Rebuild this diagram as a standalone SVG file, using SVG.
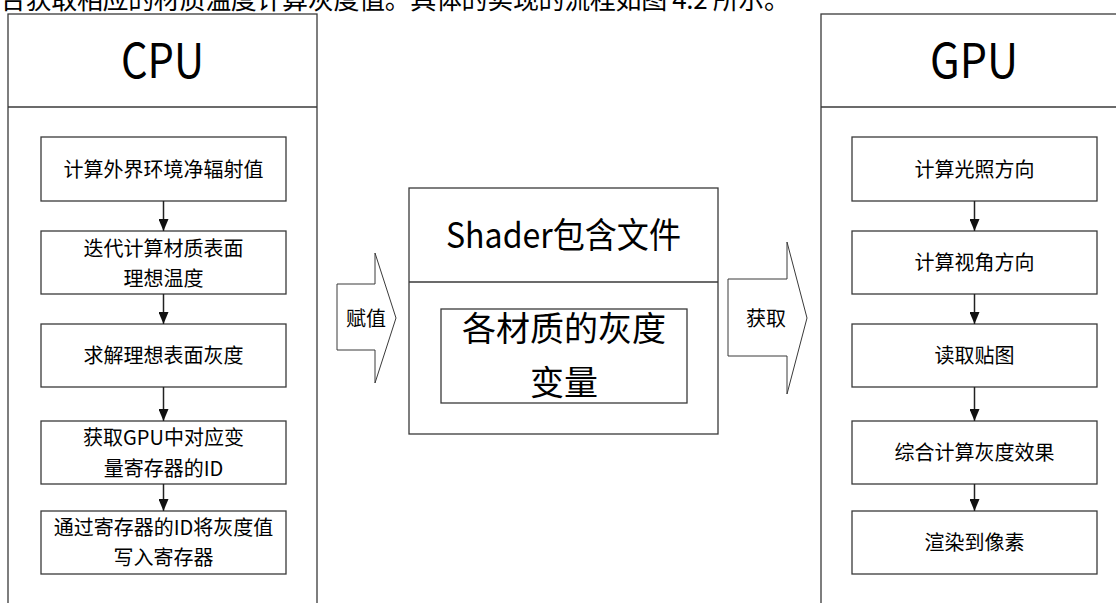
<svg xmlns="http://www.w3.org/2000/svg" width="1116" height="603" viewBox="0 0 1116 603">
<style>
  .box{fill:#fff;stroke:#3a3a3a;stroke-width:1.3}
  .ln{fill:none;stroke:#3a3a3a;stroke-width:1.3}
  .blk{fill:#fff;stroke:#3a3a3a;stroke-width:1}
  .t{font-family:"Noto Sans CJK SC","Noto Sans",sans-serif;fill:#000;text-anchor:middle}
  .s20{font-size:20px}
  .conn{fill:none;stroke:#222;stroke-width:1.5}
</style>
<defs>
  <marker id="ah" markerUnits="userSpaceOnUse" markerWidth="12" markerHeight="10" refX="12" refY="5" orient="auto" viewBox="0 0 12 10">
    <path d="M0,0 L12,5 L0,10 Z" fill="#111"/>
  </marker>
</defs>
<text x="0" y="9" font-family="Noto Sans CJK SC,sans-serif" font-size="26" textLength="790" lengthAdjust="spacing" fill="#000">合获取相应的材质温度计算灰度值。具体的实现的流程如图 4.2 所示。</text>

<g id="cpu">
  <rect class="box" x="8" y="14" width="309" height="620"/>
  <line class="ln" x1="8" y1="107" x2="317" y2="107"/>
  <text class="t" x="162.5" y="78" font-size="48" textLength="83" lengthAdjust="spacingAndGlyphs">CPU</text>
</g>
<g id="cpu1"><rect class="box" x="41" y="137" width="245" height="64"/><text class="t s20" x="163.5" y="176.5">计算外界环境净辐射值</text></g>
<g id="cpu2"><rect class="box" x="41" y="231" width="245" height="63"/><text class="t s20" x="163.5" y="256">迭代计算材质表面</text><text class="t s20" x="163.5" y="286">理想温度</text></g>
<g id="cpu3"><rect class="box" x="41" y="324" width="245" height="63"/><text class="t s20" x="163.5" y="363">求解理想表面灰度</text></g>
<g id="cpu4"><rect class="box" x="41" y="421" width="245" height="63"/><text class="t s20" x="163.5" y="445">获取GPU中对应变</text><text class="t s20" x="163.5" y="476">量寄存器的ID</text></g>
<g id="cpu5"><rect class="box" x="41" y="511" width="245" height="63"/><text class="t s20" x="163.5" y="535">通过寄存器的ID将灰度值</text><text class="t s20" x="163.5" y="565">写入寄存器</text></g>

<g id="shader">
  <rect class="box" x="409" y="188" width="309" height="246"/>
  <line class="ln" x1="409" y1="282" x2="718" y2="282"/>
  <text class="t" x="563.5" y="248" font-size="35" textLength="235" lengthAdjust="spacingAndGlyphs">Shader包含文件</text>
</g>
<g id="shader-var">
  <rect class="box" x="441" y="309" width="246" height="94"/>
  <text class="t" x="564" y="341" font-size="34">各材质的灰度</text>
  <text class="t" x="564" y="395" font-size="34">变量</text>
</g>

<g id="assign">
  <polygon class="blk" points="337,284 375,284 375,253 396,318 375,383 375,350 337,350"/>
  <text class="t s20" x="366" y="325.5">赋值</text>
</g>
<g id="fetch">
  <polygon class="blk" points="728,279 787,279 787,242 807,318 787,394 787,356 728,356"/>
  <text class="t s20" x="766" y="325.5">获取</text>
</g>

<g id="gpu">
  <rect class="box" x="821" y="14" width="400" height="620"/>
  <line class="ln" x1="821" y1="107" x2="1116" y2="107"/>
  <text class="t" x="974" y="78" font-size="48" textLength="88" lengthAdjust="spacingAndGlyphs">GPU</text>
</g>
<g id="gpu1"><rect class="box" x="852" y="137" width="245" height="64"/><text class="t s20" x="974.5" y="176.5">计算光照方向</text></g>
<g id="gpu2"><rect class="box" x="852" y="231" width="245" height="63"/><text class="t s20" x="974.5" y="270">计算视角方向</text></g>
<g id="gpu3"><rect class="box" x="852" y="324" width="245" height="63"/><text class="t s20" x="974.5" y="363">读取贴图</text></g>
<g id="gpu4"><rect class="box" x="852" y="421" width="245" height="63"/><text class="t s20" x="974.5" y="460">综合计算灰度效果</text></g>
<g id="gpu5"><rect class="box" x="852" y="511" width="245" height="63"/><text class="t s20" x="974.5" y="550">渲染到像素</text></g>

<g id="connectors">
  <line class="conn" x1="163.5" y1="201" x2="163.5" y2="231" marker-end="url(#ah)"/>
  <line class="conn" x1="163.5" y1="294" x2="163.5" y2="324" marker-end="url(#ah)"/>
  <line class="conn" x1="163.5" y1="387" x2="163.5" y2="421" marker-end="url(#ah)"/>
  <line class="conn" x1="163.5" y1="484" x2="163.5" y2="511" marker-end="url(#ah)"/>
  <line class="conn" x1="974.5" y1="201" x2="974.5" y2="231" marker-end="url(#ah)"/>
  <line class="conn" x1="974.5" y1="294" x2="974.5" y2="324" marker-end="url(#ah)"/>
  <line class="conn" x1="974.5" y1="387" x2="974.5" y2="421" marker-end="url(#ah)"/>
  <line class="conn" x1="974.5" y1="484" x2="974.5" y2="511" marker-end="url(#ah)"/>
</g>
</svg>
